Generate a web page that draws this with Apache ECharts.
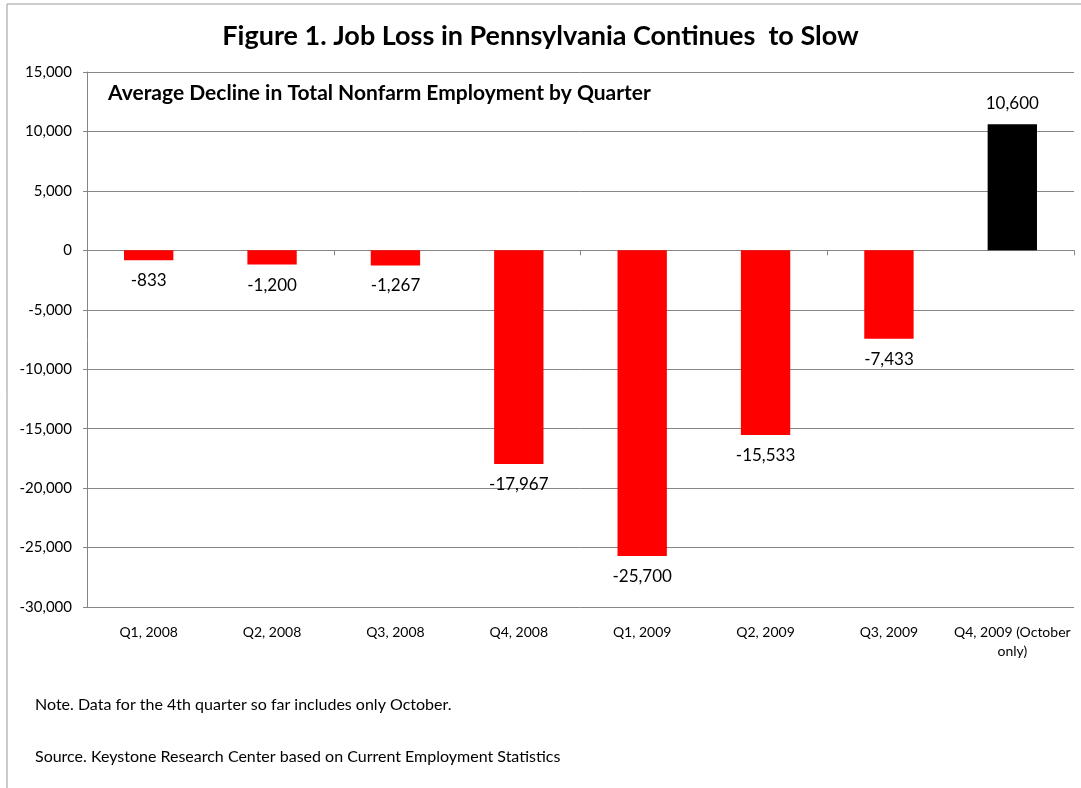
<!DOCTYPE html>
<html>
<head>
<meta charset="utf-8">
<script src="https://cdn.jsdelivr.net/npm/echarts@6/dist/echarts.min.js"></script>
<style>
  html, body { margin: 0; padding: 0; background: #fff; }
  #chart { width: 1081px; height: 788px; }
</style>
</head>
<body>
<div id="chart"></div>
<script>
var quarters = ['Q1, 2008', 'Q2, 2008', 'Q3, 2008', 'Q4, 2008', 'Q1, 2009', 'Q2, 2009', 'Q3, 2009', 'Q4, 2009 (October\nonly)'];
var avgDecline = [-833, -1200, -1267, -17967, -25700, -15533, -7433, 10600];

const FONT = 'Lato, "Open Sans", sans-serif';
const GRID_COLOR = '#868686';

function fmt(v) {
  return String(v).replace(/\B(?=(\d{3})+(?!\d))/g, ',');
}

var chart = echarts.init(document.getElementById('chart'));

var option = {
  animation: false,
  backgroundColor: '#fff',
  textStyle: { fontFamily: FONT, color: '#000' },
  title: {
    text: 'Figure 1. Job Loss in Pennsylvania Continues  to Slow',
    left: 'center',
    top: 18,
    textStyle: { fontFamily: FONT, fontSize: 27, fontWeight: 'bold', color: '#000' }
  },
  grid: { left: 87, right: 7, top: 72, bottom: 181 },
  xAxis: [
    {
      type: 'category',
      data: quarters,
      axisLine: { onZero: true, lineStyle: { color: GRID_COLOR } },
      axisTick: { show: true, length: 5, lineStyle: { color: GRID_COLOR } },
      axisLabel: { show: false }
    },
    {
      type: 'category',
      data: quarters,
      position: 'bottom',
      axisLine: { show: false },
      axisTick: { show: false },
      axisLabel: { interval: 0, margin: 16, fontSize: 14, color: '#000', fontFamily: FONT, lineHeight: 19 }
    }
  ],
  yAxis: {
    type: 'value',
    min: -30000,
    max: 15000,
    interval: 5000,
    axisLine: { show: true, lineStyle: { color: GRID_COLOR } },
    axisTick: { show: true, length: 4, lineStyle: { color: GRID_COLOR } },
    axisLabel: { margin: 15, fontSize: 15, color: '#000', fontFamily: FONT, formatter: fmt },
    splitLine: { show: true, lineStyle: { color: GRID_COLOR } }
  },
  series: [{
    type: 'bar',
    xAxisIndex: 0,
    barWidth: '40%',
    data: avgDecline.map(function (v) {
      return {
        value: v,
        itemStyle: { color: v < 0 ? '#ff0000' : '#000000' },
        label: { position: v < 0 ? 'bottom' : 'top' }
      };
    }),
    label: {
      show: true,
      distance: 12,
      fontSize: 17,
      color: '#000',
      fontFamily: FONT,
      formatter: function (p) { return fmt(p.value); }
    }
  }],
  graphic: [
    {
      type: 'rect',
      shape: { x: 7, y: 4, width: 1200, height: 900 },
      style: { fill: 'none', stroke: '#999', lineWidth: 1 },
      silent: true
    },
    {
      type: 'text',
      left: 108,
      top: 83,
      style: { text: 'Average Decline in Total Nonfarm Employment by Quarter', font: 'bold 21px ' + FONT, fill: '#000' }
    },
    {
      type: 'text',
      left: 35,
      top: 697,
      style: { text: 'Note. Data for the 4th quarter so far includes only October.', font: '16px ' + FONT, fill: '#000' }
    },
    {
      type: 'text',
      left: 35,
      top: 749,
      style: { text: 'Source. Keystone Research Center based on Current Employment Statistics', font: '16px ' + FONT, fill: '#000' }
    }
  ]
};

chart.setOption(option);
</script>
</body>
</html>
